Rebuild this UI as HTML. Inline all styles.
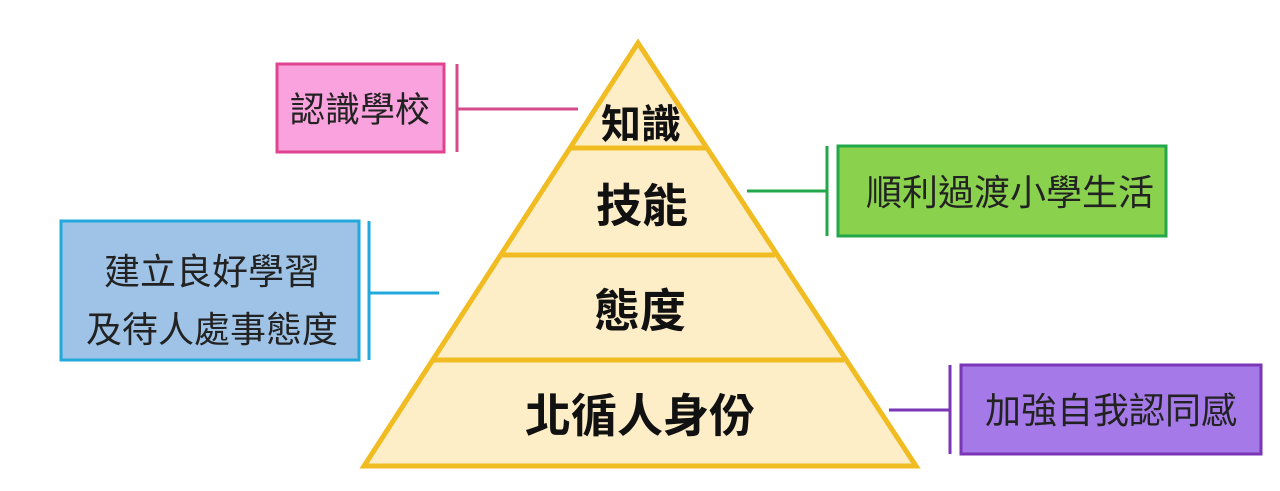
<!DOCTYPE html>
<html><head><meta charset="utf-8"><style>
body{margin:0;width:1280px;height:486px;background:#fff;overflow:hidden}
svg text{font-family:"Liberation Sans","Noto Sans CJK TC",sans-serif}
</style></head><body>
<svg width="1280" height="486" viewBox="0 0 1280 486">
<polygon points="638,43 364,466 916,466" fill="#fdeec8" stroke="#f0bc22" stroke-width="5" stroke-linejoin="miter"/>
<line x1="570" y1="148" x2="706" y2="148" stroke="#f0bc22" stroke-width="5"/>
<line x1="501" y1="255" x2="775" y2="255" stroke="#f0bc22" stroke-width="5"/>
<line x1="432" y1="360" x2="844" y2="360" stroke="#f0bc22" stroke-width="5"/>
<g font-weight="bold" fill="#111" text-anchor="middle">
<text x="641" y="138" font-size="40">知識</text>
<text x="642" y="222" font-size="46">技能</text>
<text x="640" y="327" font-size="46">態度</text>
<text x="640" y="432" font-size="46">北循人身份</text>
</g>
<rect x="277" y="64" width="167" height="88" fill="#f9a2de" stroke="#e0438f" stroke-width="3"/>
<line x1="457" y1="64" x2="457" y2="152" stroke="#d44b8a" stroke-width="3"/>
<line x1="457" y1="109" x2="578" y2="109" stroke="#d44b8a" stroke-width="3"/>
<text x="360" y="122" font-size="35" text-anchor="middle" fill="#222">認識學校</text>
<rect x="61" y="221" width="298" height="139" fill="#9fc3e6" stroke="#22a9dc" stroke-width="3"/>
<line x1="369" y1="221" x2="369" y2="360" stroke="#22a9dc" stroke-width="3"/>
<line x1="369" y1="293" x2="439" y2="293" stroke="#22a9dc" stroke-width="3"/>
<text x="212" y="284" font-size="36" text-anchor="middle" fill="#222">建立良好學習</text>
<text x="212" y="342" font-size="36" text-anchor="middle" fill="#222">及待人處事態度</text>
<rect x="838" y="146" width="328" height="90" fill="#8ad24e" stroke="#22a84a" stroke-width="3"/>
<line x1="827" y1="146" x2="827" y2="236" stroke="#22a84a" stroke-width="3"/>
<line x1="747" y1="191" x2="827" y2="191" stroke="#22a84a" stroke-width="3"/>
<text x="1010" y="205" font-size="36" text-anchor="middle" fill="#222">順利過渡小學生活</text>
<rect x="961" y="365" width="300" height="89" fill="#a57ae8" stroke="#7a36b6" stroke-width="3"/>
<line x1="950" y1="365" x2="950" y2="454" stroke="#7a36b6" stroke-width="3"/>
<line x1="889" y1="410" x2="950" y2="410" stroke="#7a36b6" stroke-width="3"/>
<text x="1111" y="423" font-size="36" text-anchor="middle" fill="#222">加強自我認同感</text>
</svg>
</body></html>
